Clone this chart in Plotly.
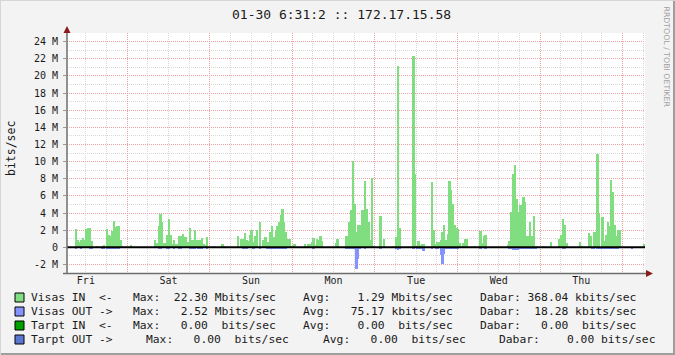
import plotly.graph_objects as go
import pandas as pd

# ---------------- data (Mbits/sec, 30-minute steps from Fri 2015-01-23 06:30) ----------------
START = "2015-01-23 06:31"
END = "2015-01-30 06:31"
STEP_MIN = 30

visas_in = (
    [0, 0, 0, 0, 0, 2.1, 0.8, 0.6, 0.8, 1.1, 0.9, 2.1, 2.2, 2.25, 0.7, 0, 0, 0.2, 0, 0,
     0.2, 0.3, 0, 2.1, 1.4, 1.3, 1.9, 3.1, 2.35, 2.5, 2.5, 0.9, 0.1, 0, 0, 0, 0, 0.3, 0, 0,
     0, 0, 0, 0, 0, 0, 0, 0]
    + [0, 0, 0, 0.9, 0.45, 2.5, 3.9, 2.9, 0.55, 0.55, 1.44, 3.3, 1.44, 0.4, 0.8, 0.35, 0.35, 1.33, 1.33, 1.6,
       1.25, 1.25, 0.65, 2.25, 0.8, 0.85, 2.0, 0.85, 0.8, 0.85, 1.1, 0.4, 0.25, 1.25, 0, 0, 0, 0.15, 0, 0,
       0, 0, 0.4, 0.15, 0, 0, 0, 0]
    + [0, 0, 0, 1.3, 0, 1.0, 1.0, 1.65, 0.8, 0.75, 1.4, 2.0, 0.65, 1.3, 2.0, 0.15, 3.0, 0.1, 0.86, 1.25,
       0.66, 0.66, 1.83, 2.5, 1.25, 2.0, 2.5, 3.0, 3.8, 4.5, 3.0, 1.83, 0.94, 0.94, 0.15, 0.15, 0.4, 0, 0, 0,
       0, 0, 0.4, 0.15, 0.4, 0.4, 0.66, 1.1]
    + [0.25, 0.94, 0.86, 1.3, 0.74, 0, 0, 0, 0, 0, 0, 0, 0.55, 1.0, 0, 0, 0, 0, 1.33, 1.33,
       3.0, 4.4, 10.1, 5.1, 1.8, 2.6, 2.6, 4.4, 4.4, 7.7, 4.5, 3.0, 0.9, 8.1, 0.1, 0, 0, 0, 3.7, 0,
       1.0, 0, 0, 0, 0, 0.1, 0, 1.25]
    + [21.1, 2.2, 0, 0, 0, 0, 0, 0, 0, 22.3, 8.5, 0.1, 0.74, 0.27, 0.4, 0.4, 0, 0, 0, 0,
       7.6, 2.0, 0.4, 0.66, 0.66, 0.86, 1.83, 2.6, 0.86, 1.56, 7.76, 6.7, 5.1, 2.6, 2.3, 2.1, 0.5, 0.15, 0.5, 0.94,
       0.94, 0, 0, 0, 0, 0.15, 0, 0]
    + [1.95, 0.55, 1.33, 1.44, 0, 0, 0, 0, 0, 0, 0, 0, 0, 0, 0, 0, 0.27, 0.7, 4.1, 8.6,
       9.6, 5.6, 4.1, 4.95, 4.95, 5.9, 5.3, 1.33, 1.33, 3.0, 1.33, 3.66, 0.1, 0, 0, 0, 0, 0.15, 0, 0,
       0, 0.6, 0, 0, 0, 0, 0.94, 1.44]
    + [3.3, 2.6, 0.47, 0, 0, 0, 0, 0, 0, 0, 0.6, 0.1, 0, 0, 0, 1.64, 1.33, 0.1, 1.8, 1.8,
       10.9, 3.9, 0, 3.5, 0.78, 1.44, 3.0, 2.5, 7.9, 6.4, 2.57, 1.33, 2.0, 2.0, 0, 0, 0, 0, 0, 0,
       0, 0, 0, 0, 0, 0, 0, 0.4]
)

visas_out = (
    [0, 0, 0, 0, 0, 0.15, 0, 0, 0.15, 0, 0, 0, 0, 0.15, 0.15, 0, 0, 0, 0, 0,
     0.15, 0.15, 0, 0.15, 0.15, 0.15, 0.15, 0.15, 0.15, 0.15, 0.15, 0, 0, 0, 0, 0, 0, 0, 0, 0,
     0, 0, 0, 0, 0, 0, 0, 0]
    + [0, 0, 0, 0, 0, 0.15, 0.15, 0, 0, 0, 0.15, 0.15, 0, 0, 0.15, 0, 0, 0.15, 0.15, 0,
       0, 0, 0, 0.15, 0.15, 0.15, 0.15, 0, 0.15, 0.15, 0.15, 0, 0, 0.15, 0, 0, 0, 0, 0, 0,
       0, 0, 0, 0, 0, 0, 0, 0]
    + [0, 0, 0, 0, 0, 0, 0.15, 0.15, 0.15, 0, 0, 0, 0.15, 0, 0, 0, 0.15, 0, 0, 0,
       0.15, 0.15, 0.15, 0.15, 0.15, 0.15, 0.15, 0.15, 0.15, 0.15, 0.25, 0.25, 0, 0, 0, 0, 0, 0, 0, 0,
       0, 0, 0, 0, 0, 0, 0, 0.2]
    + [0, 0, 0, 0, 0, 0, 0, 0, 0, 0, 0, 0, 0, 0, 0, 0, 0, 0, 0.2, 0.2,
       0.2, 0.2, 0.2, 0.2, 2.52, 1.4, 0.15, 0, 0, 0.15, 0, 0, 0, 0, 0, 0, 0, 0, 0.2, 0,
       0, 0, 0, 0, 0, 0, 0, 0.15]
    + [0.35, 0.15, 0, 0, 0, 0, 0, 0, 0, 0.15, 0, 0.15, 0.15, 0.15, 0.15, 0.45, 0, 0, 0, 0,
       0.2, 0, 0.15, 0.15, 0, 0.9, 1.9, 0.8, 0.15, 0.15, 0.15, 0.15, 0.15, 0.15, 0.15, 0.15, 0, 0, 0, 0,
       0, 0, 0, 0, 0, 0, 0, 0]
    + [0.15, 0, 0, 0.15, 0, 0, 0, 0, 0, 0, 0, 0, 0, 0, 0, 0, 0, 0.15, 0.15, 0.3,
       0.3, 0.3, 0.3, 0.15, 0.15, 0.15, 0.15, 0.15, 0.15, 0.15, 0.15, 0.15, 0.15, 0, 0, 0, 0, 0, 0, 0,
       0, 0, 0, 0, 0, 0, 0, 0]
    + [0.2, 0.2, 0, 0, 0, 0, 0, 0, 0, 0, 0, 0, 0, 0, 0, 0, 0, 0.2, 0.2, 0,
       0.2, 0.2, 0.15, 0.15, 0.15, 0.15, 0.15, 0.15, 0.15, 0.15, 0.15, 0.15, 0.15, 0, 0, 0, 0, 0, 0, 0,
       0.12, 0, 0, 0, 0, 0, 0, 0]
)

Y_TICKS = [-2, 0, 2, 4, 6, 8, 10, 12, 14, 16, 18, 20, 22, 24]
Y_TICK_TEXT = ["-2 M", "0", "2 M", "4 M", "6 M", "8 M", "10 M", "12 M", "14 M",
               "16 M", "18 M", "20 M", "22 M", "24 M"]
Y_RANGE = [-3, 25]

TITLE = "01-30 6:31:2 :: 172.17.15.58"
Y_TITLE = "bits/sec"
SIDE_TEXT = "RRDTOOL / TOBI OETIKER"

LEGEND_ROWS = [
    ("Visas IN  <-   Max:  22.30 Mbits/sec    Avg:    1.29 Mbits/sec    Dabar: 368.04 kbits/sec", "#80dd80"),
    ("Visas OUT ->   Max:   2.52 Mbits/sec    Avg:   75.17 kbits/sec    Dabar:  18.28 kbits/sec", "#8494ff"),
    ("Tarpt IN  <-   Max:   0.00  bits/sec    Avg:    0.00  bits/sec    Dabar:   0.00  bits/sec", "#00a000"),
]
LEGEND_ROW4 = [("Tarpt OUT ->", 30), ("Max:   0.00  bits/sec", 145),
               ("Avg:   0.00  bits/sec", 322), ("Dabar:    0.00 bits/sec", 498)]
LEGEND_ROW4_COLOR = "#5a78d2"

# ---------------- geometry helpers ----------------
W, H = 675, 355
L, R, T, B = 67, 645, 33, 273
PW, PH = R - L, B - T


def px(x):
    return (x - L) / PW


def py(y):
    return (B - y) / PH


MONO = "DejaVu Sans Mono"
GRID_GRAY = "#d8d8d8"
GRID_RED = "#f0a0a0"
IN_COLOR = LEGEND_ROWS[0][1]
OUT_COLOR = LEGEND_ROWS[1][1]
LEG_SIZE = 11.3
TICK_SIZE = 10

times = pd.date_range("2015-01-23 06:30", periods=len(visas_in), freq=f"{STEP_MIN}min") + pd.Timedelta(minutes=STEP_MIN / 2)
bar_w = STEP_MIN * 60 * 1000 * 1.08

fig = go.Figure()
fig.add_trace(go.Bar(x=times, y=visas_in, width=bar_w, marker=dict(color=IN_COLOR, line=dict(width=0)),
                     name="Visas IN"))
fig.add_trace(go.Bar(x=times, y=[-v for v in visas_out], width=bar_w,
                     marker=dict(color=OUT_COLOR, line=dict(width=0)), name="Visas OUT"))

shapes = []
# zero rule
shapes.append(dict(type="line", xref="paper", yref="y", x0=0, x1=1, y0=0, y1=0,
                   line=dict(color="black", width=2), layer="above"))
# axes
shapes.append(dict(type="line", xref="paper", yref="paper", x0=px(67), x1=px(67), y0=py(274), y1=py(30),
                   line=dict(color="#6e6e6e", width=1.5), layer="above"))
shapes.append(dict(type="line", xref="paper", yref="paper", x0=px(63), x1=px(646), y0=py(273.5), y1=py(273.5),
                   line=dict(color="#6e6e6e", width=1.5), layer="above"))
# arrows
shapes.append(dict(type="path", xref="paper", yref="paper",
                   path=f"M {px(63.5)} {py(33)} L {px(70.5)} {py(33)} L {px(67)} {py(26)} Z",
                   fillcolor="#8b1a1a", line=dict(width=0), layer="above"))
shapes.append(dict(type="path", xref="paper", yref="paper",
                   path=f"M {px(646)} {py(270)} L {px(646)} {py(277)} L {px(653)} {py(273.5)} Z",
                   fillcolor="#8b1a1a", line=dict(width=0), layer="above"))
# image border (3D look)
shapes.append(dict(type="line", xref="paper", yref="paper", x0=px(0), x1=px(675), y0=py(354), y1=py(354),
                   line=dict(color="#9e9e9e", width=2), layer="above"))
shapes.append(dict(type="line", xref="paper", yref="paper", x0=px(674), x1=px(674), y0=py(0), y1=py(355),
                   line=dict(color="#9e9e9e", width=2), layer="above"))
shapes.append(dict(type="line", xref="paper", yref="paper", x0=px(0), x1=px(675), y0=py(0.5), y1=py(0.5),
                   line=dict(color="#d6d6d6", width=1), layer="above"))
shapes.append(dict(type="line", xref="paper", yref="paper", x0=px(0.5), x1=px(0.5), y0=py(0), y1=py(355),
                   line=dict(color="#d6d6d6", width=1), layer="above"))

annotations = []
annotations.append(dict(text=TITLE, xref="paper", yref="paper", x=px(341), y=py(14), showarrow=False,
                        xanchor="center", yanchor="middle", font=dict(family=MONO, size=13, color="#1a1a1a")))
annotations.append(dict(text=Y_TITLE, xref="paper", yref="paper", x=px(11), y=py(149), showarrow=False,
                        textangle=-90, xanchor="center", yanchor="middle",
                        font=dict(family=MONO, size=11.5, color="#1a1a1a")))
annotations.append(dict(text=SIDE_TEXT, xref="paper", yref="paper", x=px(666), y=py(4), showarrow=False,
                        textangle=90, xanchor="center", yanchor="top",
                        font=dict(family="DejaVu Sans", size=7.8, color="#a0a0a0")))

row_y = [297.5, 311.5, 325.5, 339.5]
for i, (txt, col) in enumerate(LEGEND_ROWS):
    annotations.append(dict(text=txt.replace(" ", "\u00a0"), xref="paper", yref="paper", x=px(29), y=py(row_y[i]),
                            showarrow=False, xanchor="left", yanchor="middle",
                            font=dict(family=MONO, size=LEG_SIZE, color="#1a1a1a")))
    shapes.append(dict(type="rect", xref="paper", yref="paper", x0=px(15), x1=px(24),
                       y0=py(row_y[i] + 4.5), y1=py(row_y[i] - 4.5), fillcolor=col,
                       line=dict(color="#000000", width=1), layer="above"))
for txt, xx in LEGEND_ROW4:
    annotations.append(dict(text=txt.replace(" ", "\u00a0"), xref="paper", yref="paper", x=px(xx - 1), y=py(row_y[3]),
                            showarrow=False, xanchor="left", yanchor="middle",
                            font=dict(family=MONO, size=LEG_SIZE, color="#1a1a1a")))
shapes.append(dict(type="rect", xref="paper", yref="paper", x0=px(15), x1=px(24),
                   y0=py(row_y[3] + 4.5), y1=py(row_y[3] - 4.5), fillcolor=LEGEND_ROW4_COLOR,
                   line=dict(color="#000000", width=1), layer="above"))

fig.update_layout(
    width=W, height=H,
    margin=dict(l=L, r=W - R, t=T, b=H - B, pad=0),
    paper_bgcolor="#f3f3f3", plot_bgcolor="#ffffff",
    showlegend=False, barmode="overlay", bargap=0,
    xaxis=dict(type="date", range=[START, END], tick0="2015-01-23", dtick=86400000,
               tickformat="%a", ticklabelmode="period", showgrid=True, gridcolor=GRID_RED,
               griddash="1px,1px", gridwidth=1, zeroline=False, showline=False, ticks="",
               tickfont=dict(family=MONO, size=TICK_SIZE, color="#1a1a1a"),
               minor=dict(dtick=21600000, tick0="2015-01-23", showgrid=True, gridcolor=GRID_GRAY,
                          griddash="1px,1px", gridwidth=1)),
    yaxis=dict(range=Y_RANGE, tickmode="array", tickvals=Y_TICKS, ticktext=Y_TICK_TEXT,
               showgrid=True, gridcolor=GRID_RED, griddash="1px,1px", gridwidth=1,
               zeroline=False, showline=False, ticks="outside", ticklen=3, tickcolor="#999999",
               ticklabelstandoff=3,
               tickfont=dict(family=MONO, size=TICK_SIZE, color="#1a1a1a"),
               minor=dict(tickmode="linear", tick0=0, dtick=1, showgrid=True, gridcolor=GRID_GRAY,
                          griddash="1px,1px", gridwidth=1)),
    shapes=shapes, annotations=annotations,
)

fig.write_html("out.html")
